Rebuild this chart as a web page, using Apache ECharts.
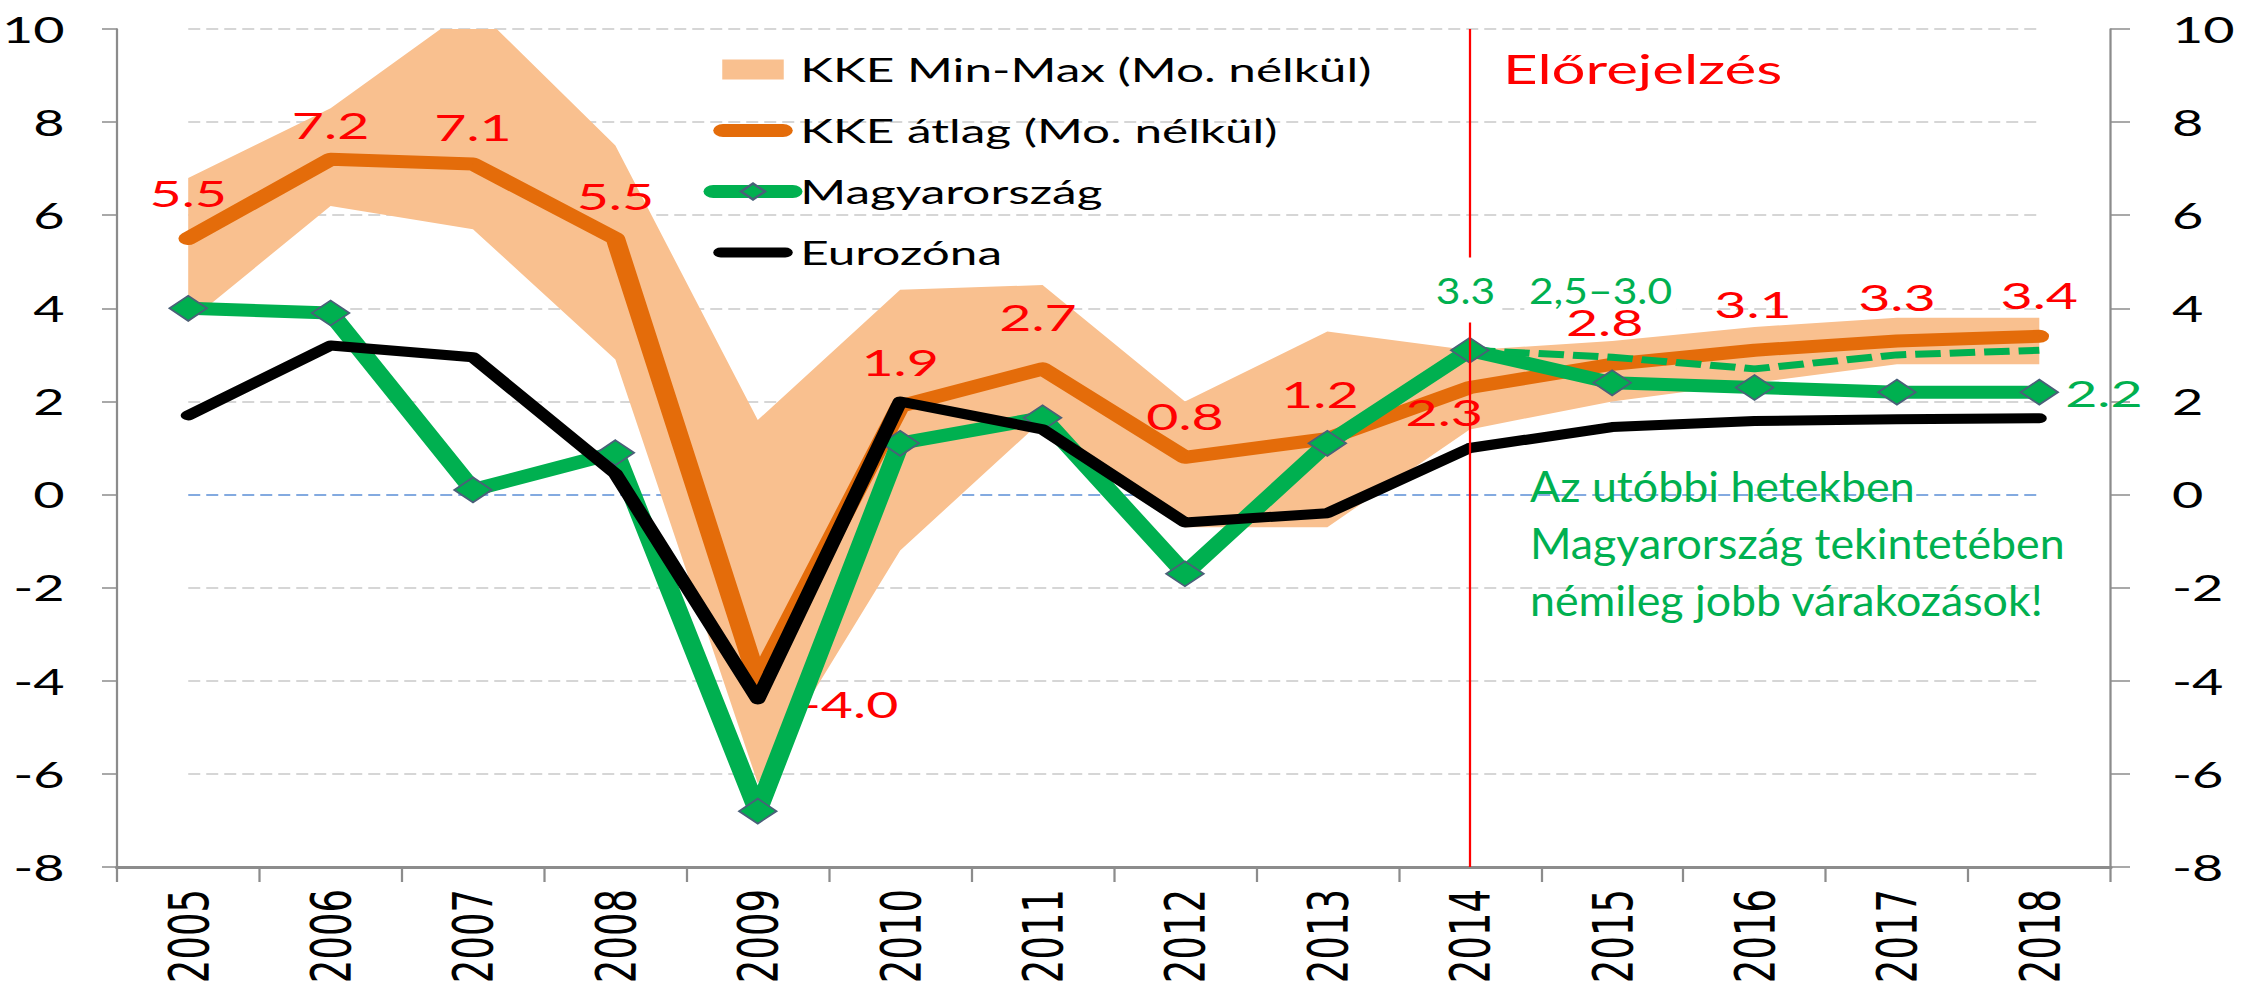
<!DOCTYPE html>
<html lang="hu">
<head>
    <meta charset="UTF-8">
    <title>GDP-növekedés: KKE, Magyarország, Eurozóna</title>
    <script type="text/javascript" src="https://cdn.jsdelivr.net/npm/echarts@6/dist/echarts.min.js"></script>
    <style>
        html, body { margin: 0; padding: 0; background: #fff; overflow: hidden; }
        /* a forrásábra vízszintesen ~1,5x-re nyújtott, ezért keskenyebben rajzolunk és nyújtunk */
        #main { width: 1498px; height: 986px; transform: scaleX(1.5); transform-origin: 0 0; }
    </style>
</head>
<body>
<div id="main"></div>
<script type="text/javascript">
    var STRETCH = 1.5;

    var years = ['2005', '2006', '2007', '2008', '2009', '2010', '2011',
                 '2012', '2013', '2014', '2015', '2016', '2017', '2018'];

    // KKE sáv (Mo. nélkül)
    var kkeMin = [3.7, 6.2, 5.7, 2.9, -6.2, -1.2, 1.6, -0.7, -0.7, 1.4, 2.0, 2.4, 2.8, 2.8];
    var kkeMax = [6.8, 8.3, 10.5, 7.5, 1.6, 4.4, 4.5, 2.0, 3.5, 3.1, 3.3, 3.6, 3.8, 3.8];
    // KKE átlag (Mo. nélkül)
    var kkeAvg = [5.5, 7.2, 7.1, 5.5, -4.0, 1.9, 2.7, 0.8, 1.2, 2.3, 2.8, 3.1, 3.3, 3.4];
    // Magyarország
    var hungary = [4.0, 3.9, 0.1, 0.9, -6.8, 1.1, 1.65, -1.7, 1.1, 3.1, 2.4, 2.3, 2.2, 2.2];
    // Magyarország, korábbi várakozás (szaggatott)
    var hungaryPrev = [null, null, null, null, null, null, null, null, null, 3.1, 2.95, 2.7, 3.0, 3.1];
    // Eurozóna
    var eurozone = [1.7, 3.2, 2.95, 0.45, -4.4, 2.0, 1.4, -0.6, -0.4, 1.0, 1.45, 1.58, 1.62, 1.64];

    var yMin = -8, yMax = 10, yStep = 2;

    // feliratok eltolása (px, nyújtás előtt)
    var avgLabelOffsets = [[0, -46], [0, -35], [0, -38], [0, -43], [61, 23], [0, -45], [-3, -52],
                           [0, -42], [-5, -45], [-17, 24], [-5, -43], [-1, -47], [0, -44], [0, -42]];

    var bandWidth = kkeMax.map(function (v, i) { return +(v - kkeMin[i]).toFixed(2); });

    var avgData = kkeAvg.map(function (v, i) {
        return { value: v, label: { offset: avgLabelOffsets[i] } };
    });

    var hungaryData = hungary.map(function (v, i) {
        if (i !== hungary.length - 1) return v;
        return {
            value: v,
            label: { show: true, position: 'right', distance: 4, color: '#00b050',
                     fontFamily: 'Lato', fontSize: 37,
                     formatter: function (p) { return p.value.toFixed(1); } }
        };
    });

    // rácsvonalak színe: a 0-s vonal kék
    var gridColors = [];
    for (var t = yMin; t <= yMax; t += yStep) {
        gridColors.push(t === 0 ? '#5b8fd6' : '#c9c9c9');
    }

    var option = {
        animation: false,
        backgroundColor: '#fff',
        grid: [
            { left: 78, right: 91, top: 29, bottom: 119, outerBoundsMode: 'none' },
            { left: 125.5, right: 138.5, top: 29, bottom: 119, outerBoundsMode: 'none' }
        ],
        legend: {
            orient: 'vertical',
            left: 464,
            top: 48,
            itemWidth: 53,
            itemHeight: 20,
            itemGap: 28,
            lineStyle: { width: 'inherit' },
            textStyle: { fontFamily: 'Lato', fontSize: 33, color: '#000', lineHeight: 30 },
            data: [
                { name: 'KKE Min-Max (Mo. nélkül)', icon: 'path://M0,0H41V20H0Z' },
                { name: 'KKE átlag (Mo. nélkül)', icon: 'path://M6.5,0H46.5A6.5,6.5 0 0 1 46.5,13H6.5A6.5,6.5 0 0 1 6.5,0Z' },
                { name: 'Magyarország' },
                { name: 'Eurozóna', icon: 'path://M5,0H48A5,5 0 0 1 48,10H5A5,5 0 0 1 5,0Z' }
            ]
        },
        xAxis: [
            {
                type: 'category',
                gridIndex: 0,
                data: years,
                boundaryGap: true,
                axisLine: { onZero: false, lineStyle: { color: '#8c8c8c', width: 3 } },
                axisTick: { show: true, interval: 0, length: 15, lineStyle: { color: '#8c8c8c', width: 1.5 } },
                axisLabel: { interval: 0, rotate: 90, margin: 22, fontFamily: 'DejaVu Sans', fontSize: 37, color: '#000' },
                splitLine: { show: false }
            },
            { type: 'value', gridIndex: 1, min: 0, max: 1, show: false }
        ],
        yAxis: [
            {
                type: 'value', gridIndex: 0, position: 'left',
                min: yMin, max: yMax, interval: yStep,
                axisLine: { show: true, lineStyle: { color: '#8c8c8c', width: 1.5 } },
                axisTick: { show: true, length: 10, lineStyle: { color: '#8c8c8c', width: 1.5 } },
                axisLabel: { margin: 35, fontFamily: 'Lato', fontSize: 36, color: '#000' },
                splitLine: { show: false }
            },
            {
                type: 'value', gridIndex: 0, position: 'right',
                min: yMin, max: yMax, interval: yStep,
                axisLine: { show: true, lineStyle: { color: '#8c8c8c', width: 1.5 } },
                axisTick: { show: true, length: 13, lineStyle: { color: '#8c8c8c', width: 1.5 } },
                axisLabel: { margin: 41, fontFamily: 'Lato', fontSize: 36, color: '#000' },
                splitLine: { show: false }
            },
            {
                type: 'value', gridIndex: 1,
                min: yMin, max: yMax, interval: yStep,
                axisLine: { show: false }, axisTick: { show: false }, axisLabel: { show: false },
                splitLine: { show: true, lineStyle: { color: gridColors, width: 1.5, type: [8, 4] } }
            }
        ],
        series: [
            {
                name: 'kkeMinBase', type: 'line', data: kkeMin,
                stack: 'band', stackStrategy: 'all',
                symbol: 'none', silent: true,
                lineStyle: { width: 0, opacity: 0 },
                z: 1
            },
            {
                name: 'KKE Min-Max (Mo. nélkül)', type: 'line', data: bandWidth,
                stack: 'band', stackStrategy: 'all',
                symbol: 'none', silent: true,
                lineStyle: { width: 0, opacity: 0 },
                itemStyle: { color: '#f9c08f' },
                areaStyle: { color: '#f9c08f', opacity: 1 },
                z: 1
            },
            {
                name: 'KKE átlag (Mo. nélkül)', type: 'line', data: avgData,
                symbol: 'circle', symbolSize: 1,
                lineStyle: { color: '#e46c0a', width: 13, cap: 'round', join: 'round' },
                itemStyle: { color: '#e46c0a' },
                label: {
                    show: true, position: 'inside', color: '#ff0000',
                    fontFamily: 'Lato', fontSize: 37,
                    formatter: function (p) { return p.value.toFixed(1); }
                },
                z: 2
            },
            {
                name: 'Magyarország', type: 'line', data: hungaryData,
                symbol: 'diamond', symbolSize: 25,
                lineStyle: { color: '#00b050', width: 13, cap: 'round', join: 'round' },
                itemStyle: { color: '#00b050', borderColor: '#4a6079', borderWidth: 1.5 },
                z: 3
            },
            {
                name: 'hungaryPrev', type: 'line', data: hungaryPrev,
                symbol: 'none', silent: true,
                lineStyle: { color: '#00b050', width: 7, type: [17, 6] },
                z: 3
            },
            {
                name: 'Eurozóna', type: 'line', data: eurozone,
                symbol: 'none',
                lineStyle: { color: '#000', width: 10, cap: 'round', join: 'round' },
                itemStyle: { color: '#000' },
                z: 4,
                markLine: {
                    silent: true,
                    symbol: ['none', 'none'],
                    label: { show: false },
                    lineStyle: { color: '#ff0000', width: 1.5, type: 'solid' },
                    data: [{ xAxis: '2014' }]
                }
            }
        ],
        graphic: [
            {
                type: 'text', x: 1002, y: 69, z: 10,
                style: { text: 'Előrejelzés', fill: '#ff0000', font: '40px Lato', verticalAlign: 'middle' }
            },
            {
                type: 'text', x: 977, y: 290, z: 10, scaleX: 1.15 / STRETCH,
                style: { text: '3.3', fill: '#00b050', font: '37px Lato', align: 'center', verticalAlign: 'middle',
                         backgroundColor: '#fff', padding: [14, 6] }
            },
            {
                type: 'text', x: 1067, y: 290, z: 1, scaleX: 1.15 / STRETCH,
                style: { text: '2,5–3.0', fill: '#00b050', font: '37px Lato', align: 'center', verticalAlign: 'middle',
                         backgroundColor: '#fff', padding: [4, 4] }
            },
            {
                type: 'text', x: 1020, y: 457, z: 1, scaleX: 1.065 / STRETCH,
                style: { text: 'Az utóbbi hetekben\nMagyarország tekintetében\nnémileg jobb várakozások!',
                         fill: '#00b050', font: '42px Lato', lineHeight: 57, verticalAlign: 'top' }
            }
        ]
    };

    var myChart = echarts.init(document.getElementById('main'), null, { renderer: 'svg' });
    myChart.setOption(option);
</script>
</body>
</html>
